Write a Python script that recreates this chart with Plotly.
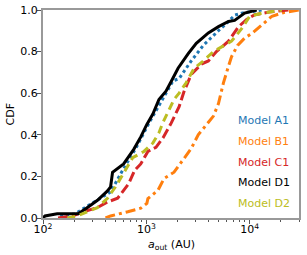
import numpy as np
import plotly.graph_objects as go

# log10(a_out / AU) and CDF values
logA_A1 = [2.166, 2.312, 2.439, 2.556, 2.654, 2.771, 2.898, 3.024, 3.141, 3.259, 3.317,
           3.434, 3.551, 3.649, 3.707, 3.776, 3.854, 3.922, 4.117]
cdf_A1 = [0.01, 0.02, 0.06, 0.095, 0.125, 0.23, 0.335, 0.455, 0.56, 0.66, 0.67,
          0.755, 0.83, 0.88, 0.905, 0.935, 0.975, 0.985, 1.0]

logA_B1 = [2.605, 2.654, 2.820, 2.946, 3.005, 3.015, 3.112, 3.171, 3.268, 3.356, 3.434,
           3.502, 3.571, 3.649, 3.698, 3.727, 3.746, 3.795, 3.824, 3.883, 3.951, 4.029,
           4.117, 4.215, 4.332, 4.478]
cdf_B1 = [0.0, 0.01, 0.03, 0.047, 0.07, 0.093, 0.133, 0.19, 0.22, 0.28, 0.334,
          0.40, 0.44, 0.49, 0.55, 0.61, 0.65, 0.73, 0.775, 0.83, 0.865, 0.89,
          0.93, 0.97, 0.988, 1.0]

logA_C1 = [2.146, 2.283, 2.390, 2.527, 2.624, 2.722, 2.829, 2.888, 2.946, 3.015, 3.093,
           3.161, 3.239, 3.317, 3.366, 3.434, 3.532, 3.600, 3.678, 3.795, 3.893, 3.971,
           4.049, 4.185, 4.380]
cdf_C1 = [0.0, 0.01, 0.03, 0.05, 0.077, 0.095, 0.165, 0.23, 0.26, 0.32, 0.34,
          0.385, 0.455, 0.535, 0.61, 0.69, 0.74, 0.755, 0.80, 0.85, 0.92, 0.955,
          0.977, 0.99, 1.0]

logA_D1 = [2.000, 2.020, 2.137, 2.341, 2.420, 2.527, 2.624, 2.654, 2.673, 2.780, 2.878,
           2.946, 3.005, 3.063, 3.122, 3.190, 3.239, 3.307, 3.405, 3.483, 3.600, 3.698,
           3.795, 3.854, 3.951, 4.068]
cdf_D1 = [0.0, 0.01, 0.02, 0.02, 0.047, 0.085, 0.13, 0.15, 0.22, 0.26, 0.33,
          0.39, 0.45, 0.50, 0.57, 0.61, 0.655, 0.72, 0.79, 0.84, 0.89, 0.92,
          0.945, 0.95, 0.985, 1.0]

logA_D2 = [2.234, 2.332, 2.527, 2.624, 2.702, 2.800, 2.868, 2.976, 3.063, 3.122, 3.161,
           3.220, 3.268, 3.317, 3.385, 3.463, 3.551, 3.649, 3.746, 3.824, 3.922, 4.000,
           4.117, 4.312]
cdf_D2 = [0.0, 0.01, 0.05, 0.095, 0.15, 0.23, 0.29, 0.32, 0.36, 0.41, 0.46,
          0.52, 0.57, 0.60, 0.65, 0.72, 0.755, 0.80, 0.83, 0.85, 0.91, 0.97,
          0.985, 1.0]

labels = ["Model A1", "Model B1", "Model C1", "Model D1", "Model D2"]
colors = ["#1f77b4", "#ff7f0e", "#d62728", "#000000", "#bcbd22"]
dashes = ["3px,3px", "10px,4px,3px,4px", "10px,4px", "solid", "8px,5px"]

x_ticks = [100, 1000, 10000]
x_ticktext = ["10<sup>2</sup>", "10<sup>3</sup>", "10<sup>4</sup>"]
y_ticks = [0.0, 0.2, 0.4, 0.6, 0.8, 1.0]
y_ticktext = ["0.0", "0.2", "0.4", "0.6", "0.8", "1.0"]
minor_vals = [m * 10 ** k for k in (2, 3, 4) for m in range(2, 10)]
x_title = "<i>a</i><sub>out</sub> (AU)"
y_title = "CDF"

series = [(logA_A1, cdf_A1), (logA_B1, cdf_B1), (logA_C1, cdf_C1),
          (logA_D1, cdf_D1), (logA_D2, cdf_D2)]

fig = go.Figure()
for (lx, cy), name, col, dsh in zip(series, labels, colors, dashes):
    fig.add_trace(go.Scatter(
        x=10 ** np.array(lx), y=cy, mode="lines", name=name,
        line=dict(color=col, width=3, dash=dsh), showlegend=False,
    ))

font = dict(family="DejaVu Sans", size=11, color="black")

label_y = [0.470, 0.366, 0.265, 0.169, 0.071]
for name, col, yy in zip(labels, colors, label_y):
    fig.add_annotation(text=name, xref="paper", yref="paper", x=0.752, y=yy,
                       xanchor="left", yanchor="middle", showarrow=False,
                       font=dict(family="DejaVu Sans", size=11, color=col))

# axis titles
fig.add_annotation(text=x_title, xref="paper", yref="paper", x=0.5, y=-0.131,
                   xanchor="center", yanchor="middle", showarrow=False, font=font)
fig.add_annotation(text=y_title, xref="paper", yref="paper", x=-0.127, y=0.5,
                   xanchor="center", yanchor="middle", showarrow=False,
                   textangle=-90, font=font)

axis_common = dict(showline=True, mirror=True, linecolor="#999999", linewidth=2,
                   showgrid=False, zeroline=False, ticks="outside", ticklen=4,
                   tickwidth=1, tickcolor="#555555", tickfont=font, automargin=False)

fig.update_xaxes(type="log", range=[2, np.log10(3e4)], tickvals=x_ticks,
                 ticktext=x_ticktext, ticklabelstandoff=-4,
                 minor=dict(tickvals=minor_vals, ticks="outside", ticklen=2,
                            tickcolor="#555555", showgrid=False),
                 **axis_common)
fig.update_yaxes(range=[0, 1], tickvals=y_ticks, ticktext=y_ticktext,
                 ticklabelstandoff=-3, **axis_common)

fig.update_layout(width=307, height=255, margin=dict(l=43, r=8, t=10, b=37),
                  plot_bgcolor="white", paper_bgcolor="white", font=font)

fig.write_html("out.html", config={"displayModeBar": False},
               post_script="document.body.style.margin='0';")
